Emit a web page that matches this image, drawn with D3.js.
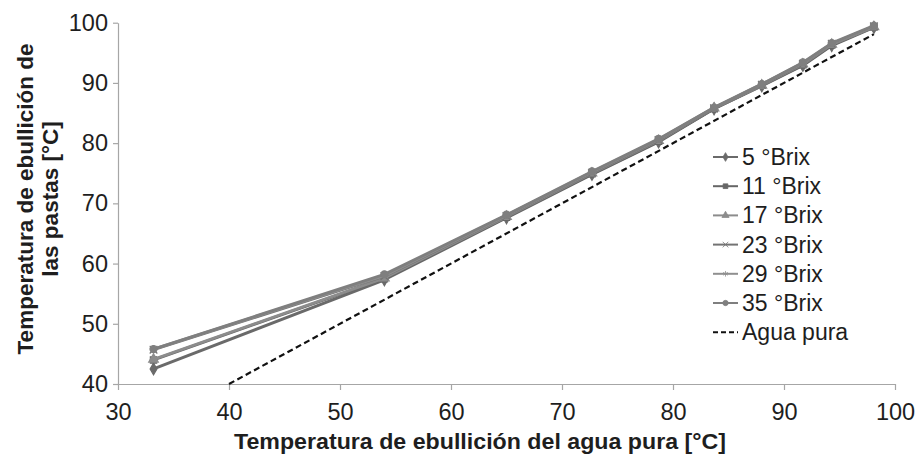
<!DOCTYPE html>
<html>
<head>
<meta charset="utf-8">
<script src="https://cdn.jsdelivr.net/npm/d3@7"></script>
<style>
  body { margin: 0; background: #fff; }
  text { font-family: "Liberation Sans", Arial, sans-serif; }
</style>
</head>
<body>
<div id="chart"></div>
<script>
// boiling temperature of pure water (x) for each measurement
const waterTemp = [33.2, 54.0, 65.0, 72.7, 78.7, 83.7, 88.0, 91.7, 94.3, 98.1];

const brix5  = [42.5, 57.3, 67.6, 74.8, 80.2, 85.7, 89.5, 92.9, 96.2, 99.2];
const brix11 = [44.0, 57.5, 67.7, 74.9, 80.3, 85.7, 89.6, 93.0, 96.3, 99.3];
const brix17 = [44.1, 57.6, 67.8, 75.0, 80.4, 85.8, 89.6, 93.1, 96.4, 99.3];
const brix23 = [45.7, 57.9, 67.9, 75.1, 80.5, 85.8, 89.7, 93.2, 96.5, 99.4];
const brix29 = [45.8, 58.0, 68.0, 75.2, 80.6, 85.9, 89.8, 93.3, 96.5, 99.4];
const brix35 = [45.8, 58.2, 68.1, 75.3, 80.7, 85.9, 89.8, 93.4, 96.6, 99.5];

const seriesNames = ["5 °Brix", "11 °Brix", "17 °Brix", "23 °Brix", "29 °Brix", "35 °Brix"];
const pureWater = [[40, 40], [98.1, 98.1]];

const xTicks = [30, 40, 50, 60, 70, 80, 90, 100];
const yTicks = [40, 50, 60, 70, 80, 90, 100];

const series = [
  { name: seriesNames[0], values: brix5,  color: "#6a6a6a", symbol: d3.symbolDiamond },
  { name: seriesNames[1], values: brix11, color: "#666666", symbol: d3.symbolSquare },
  { name: seriesNames[2], values: brix17, color: "#8c8c8c", symbol: d3.symbolTriangle },
  { name: seriesNames[3], values: brix23, color: "#737373", symbol: d3.symbolTimes },
  { name: seriesNames[4], values: brix29, color: "#8f8f8f", symbol: d3.symbolAsterisk },
  { name: seriesNames[5], values: brix35, color: "#7f7f7f", symbol: d3.symbolCircle }
];

const W = 916, H = 454;
const svg = d3.select("#chart").append("svg")
  .attr("width", W).attr("height", H);

const x = d3.scaleLinear().domain([30, 100]).range([118, 895]);
const y = d3.scaleLinear().domain([40, 100]).range([384, 22.7]);

// axes
const yAxis = svg.append("g")
  .attr("transform", `translate(${x(30)},0)`)
  .call(d3.axisLeft(y).tickValues(yTicks).tickSize(5).tickPadding(5).tickSizeOuter(0));
const xAxis = svg.append("g")
  .attr("transform", `translate(0,${y(40)})`)
  .call(d3.axisBottom(x).tickValues(xTicks).tickSize(6).tickPadding(13).tickSizeOuter(0));

[xAxis, yAxis].forEach(g => {
  g.select(".domain").attr("stroke", "#a6a6a6").attr("stroke-width", 1.2);
  g.selectAll(".tick line").attr("stroke", "#a6a6a6").attr("stroke-width", 1.2);
  g.selectAll(".tick text")
    .attr("fill", "#1e1e1e")
    .style("font-size", "23.5px")
    .style("font-family", "'Liberation Sans', Arial, sans-serif");
});

// pure water reference
svg.append("path")
  .attr("d", d3.line().x(d => x(d[0])).y(d => y(d[1]))(pureWater))
  .attr("fill", "none")
  .attr("stroke", "#111")
  .attr("stroke-width", 2.2)
  .attr("stroke-dasharray", "6,3.5");

const line = d3.line().x(d => x(d[0])).y(d => y(d[1]));

series.forEach(s => {
  const pts = waterTemp.map((t, i) => [t, s.values[i]]);
  svg.append("path")
    .attr("d", line(pts))
    .attr("fill", "none")
    .attr("stroke", s.color)
    .attr("stroke-width", 2.9)
    .attr("stroke-linejoin", "round");
  svg.append("g").selectAll("path")
    .data(pts)
    .join("path")
    .attr("transform", d => `translate(${x(d[0])},${y(d[1])})`)
    .attr("d", d3.symbol().type(s.symbol).size(40))
    .attr("fill", s.color)
    .attr("stroke", s.color)
    .attr("stroke-width", 1.2);
});

// legend
const legend = svg.append("g").attr("transform", "translate(713,157)");
const rowH = 29.2;
series.forEach((s, i) => {
  const row = legend.append("g").attr("transform", `translate(0,${i * rowH})`);
  row.append("line").attr("x1", 0).attr("x2", 25).attr("y1", 0).attr("y2", 0)
    .attr("stroke", s.color).attr("stroke-width", 2);
  row.append("path").attr("transform", "translate(12.5,0)")
    .attr("d", d3.symbol().type(s.symbol).size(22))
    .attr("fill", s.color).attr("stroke", s.color).attr("stroke-width", 0.8);
  row.append("text").attr("x", 29).attr("y", 8)
    .style("font-size", "23px").attr("fill", "#1e1e1e").text(s.name);
});
const waterRow = legend.append("g").attr("transform", `translate(0,${6 * rowH})`);
waterRow.append("line").attr("x1", 0).attr("x2", 25).attr("y1", 0).attr("y2", 0)
  .attr("stroke", "#111").attr("stroke-width", 2).attr("stroke-dasharray", "5,3");
waterRow.append("text").attr("x", 29).attr("y", 8)
  .style("font-size", "23px").attr("fill", "#1e1e1e").text("Agua pura");

// axis titles
svg.append("text")
  .attr("x", 480).attr("y", 449)
  .attr("text-anchor", "middle")
  .attr("textLength", 492).attr("lengthAdjust", "spacingAndGlyphs")
  .style("font-family", "'Liberation Sans Narrow', 'Arial Narrow', 'Liberation Sans', sans-serif")
  .style("font-size", "22px").style("font-weight", "bold").attr("fill", "#1e1e1e")
  .text("Temperatura de ebullición del agua pura [°C]");

const yTitle = svg.append("text")
  .attr("transform", "translate(33,199) rotate(-90)")
  .attr("text-anchor", "middle")
  .style("font-size", "22.5px").style("font-weight", "bold").attr("fill", "#1e1e1e");
yTitle.append("tspan").attr("x", 0).attr("y", 0).text("Temperatura de ebullición de");
yTitle.append("tspan").attr("x", 0).attr("y", 25).text("las pastas [°C]");
</script>
</body>
</html>
